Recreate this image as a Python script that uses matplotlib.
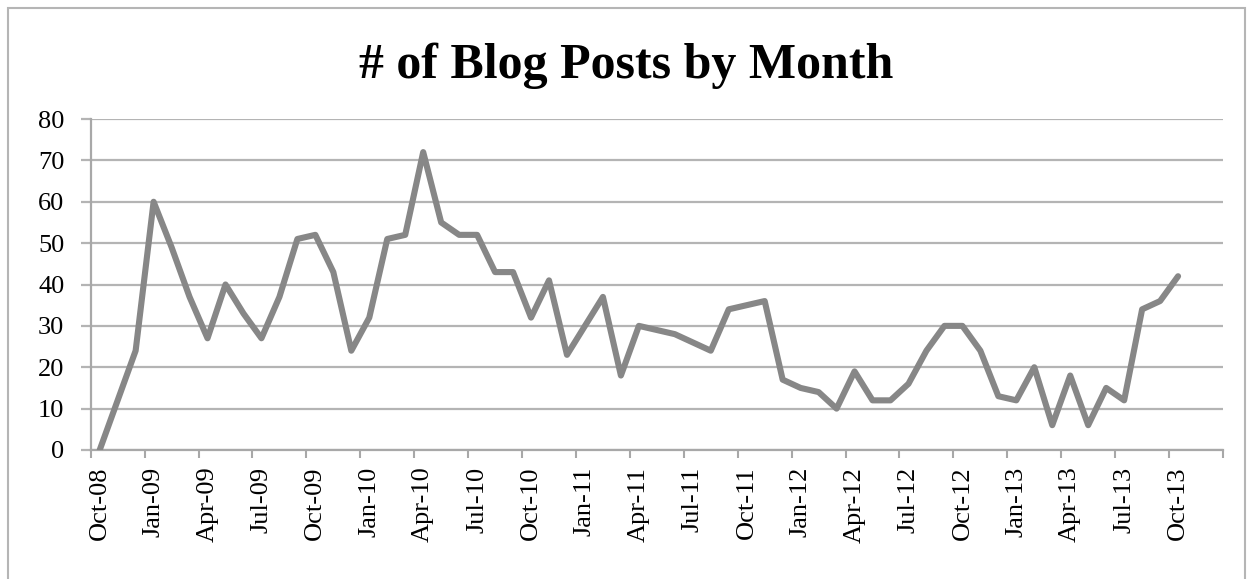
import matplotlib
matplotlib.use("Agg")
import matplotlib.pyplot as plt
from matplotlib.patches import Rectangle

# monthly blog post counts, Oct-08 .. Oct-13
months = ["Oct-08", "Nov-08", "Dec-08",
          "Jan-09", "Feb-09", "Mar-09", "Apr-09", "May-09", "Jun-09",
          "Jul-09", "Aug-09", "Sep-09", "Oct-09", "Nov-09", "Dec-09",
          "Jan-10", "Feb-10", "Mar-10", "Apr-10", "May-10", "Jun-10",
          "Jul-10", "Aug-10", "Sep-10", "Oct-10", "Nov-10", "Dec-10",
          "Jan-11", "Feb-11", "Mar-11", "Apr-11", "May-11", "Jun-11",
          "Jul-11", "Aug-11", "Sep-11", "Oct-11", "Nov-11", "Dec-11",
          "Jan-12", "Feb-12", "Mar-12", "Apr-12", "May-12", "Jun-12",
          "Jul-12", "Aug-12", "Sep-12", "Oct-12", "Nov-12", "Dec-12",
          "Jan-13", "Feb-13", "Mar-13", "Apr-13", "May-13", "Jun-13",
          "Jul-13", "Aug-13", "Sep-13", "Oct-13"]
posts = [0, 12, 24,
         60, 49, 37, 27, 40, 33, 27, 37, 51, 52, 43, 24,
         32, 51, 52, 72, 55, 52, 52, 43, 43, 32, 41, 23,
         30, 37, 18, 30, 29, 28, 26, 24, 34, 35, 36, 17,
         15, 14, 10, 19, 12, 12, 16, 24, 30, 30, 24, 13,
         12, 20, 6, 18, 6, 15, 12, 34, 36, 42]
# every third month is labelled
label_every = 3
y_ticks = [0, 10, 20, 30, 40, 50, 60, 70, 80]

SERIF = ["Liberation Serif", "DejaVu Serif"]


def main():
    fig = plt.figure(figsize=(12.53, 5.79), dpi=100)
    fig.patch.set_facecolor("white")
    # thin frame round the chart
    fig.patches.append(Rectangle((8 / 1253, -0.05), 1237 / 1253, 1.05 - 8 / 579,
                                 transform=fig.transFigure, fill=False,
                                 edgecolor="#b5b5b5", linewidth=1.5))

    ax = fig.add_axes([90.7 / 1253, 1 - 450 / 579, (1223 - 90.7) / 1253, 331 / 579])
    x = list(range(len(posts)))
    ax.plot(x, posts, color="#878787", linewidth=4.4, solid_joinstyle="round",
            solid_capstyle="round", zorder=3)

    ax.set_ylim(0, 80)
    ax.set_xlim(-0.5, 62.5)
    ax.set_yticks(y_ticks)
    ax.set_yticklabels([str(v) for v in y_ticks], family=SERIF, fontsize=19)
    ax.grid(axis="y", color="#b4b4b4", linewidth=1.6, zorder=1)

    # labels centred on the month, tick marks on the slot boundaries
    lab_pos = x[::label_every]
    ax.set_xticks(lab_pos)
    ax.set_xticklabels(months[::label_every], rotation=90, family=SERIF,
                       fontsize=19)
    ax.set_xticks([p - 0.5 for p in range(0, 64, 3)], minor=True)
    ax.tick_params(axis="x", which="major", length=0, pad=12)
    ax.tick_params(axis="x", which="minor", length=6, width=1.5,
                   color="#a8a8a8", direction="out")
    ax.tick_params(axis="y", length=7, width=1.6, color="#b4b4b4", pad=12)

    for side in ("top", "right"):
        ax.spines[side].set_visible(False)
    for side in ("left", "bottom"):
        ax.spines[side].set_color("#a8a8a8")
        ax.spines[side].set_linewidth(1.6)

    fig.text(0.5, 1 - 66 / 579, "# of Blog Posts by Month", ha="center",
             va="center", family=SERIF, fontweight="bold", fontsize=36)

    fig.savefig("out.png", dpi=100)


if __name__ == "__main__":
    main()
